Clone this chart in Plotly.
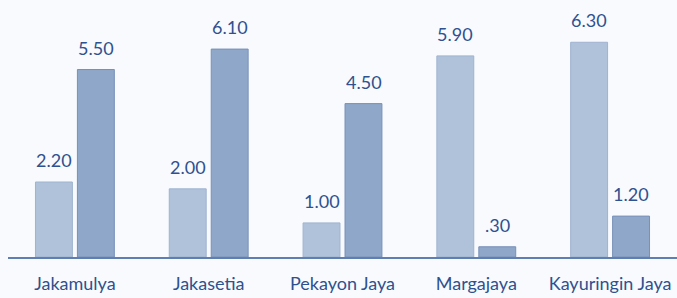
import plotly.graph_objects as go

categories = ["Jakamulya", "Jakasetia", "Pekayon Jaya", "Margajaya", "Kayuringin Jaya"]
series_a = [2.20, 2.00, 1.00, 5.90, 6.30]
series_b = [5.50, 6.10, 4.50, 0.30, 1.20]


def fmt(v):
    s = f"{v:.2f}"
    return s[1:] if s.startswith("0") else s


LABEL_COLOR = "#2f5190"
FONT = "Lato, 'Open Sans', sans-serif"

fig = go.Figure()
fig.add_trace(go.Bar(
    x=categories, y=series_a, name="A",
    marker=dict(color="#b0c2da", line=dict(color="#9fb3cf", width=1)),
))
fig.add_trace(go.Bar(
    x=categories, y=series_b, name="B",
    marker=dict(color="#8fa7c8", line=dict(color="#7890b8", width=1)),
))

annotations = []
for i, (a, b) in enumerate(zip(series_a, series_b)):
    for val, off in ((a, -0.5), (b, 0.5)):
        annotations.append(dict(
            x=i, xref="x", y=val, yref="y", xshift=off * 42,
            text=fmt(val), showarrow=False, yanchor="middle", yshift=22,
            font=dict(family=FONT, size=18, color=LABEL_COLOR),
        ))

fig.update_layout(
    width=677, height=298,
    margin=dict(l=8, r=0, t=0, b=41, autoexpand=False),
    paper_bgcolor="#f8fafd", plot_bgcolor="#f8fafd",
    showlegend=False,
    barmode="group", bargap=0.373, bargroupgap=0.12,
    annotations=annotations,
    font=dict(family=FONT, color=LABEL_COLOR),
)
fig.update_xaxes(
    showline=True, linecolor="#5f7fb3", linewidth=1.5,
    showgrid=False, ticks="", ticklabelstandoff=10, automargin=False,
    tickfont=dict(family=FONT, size=18, color=LABEL_COLOR),
)
fig.update_yaxes(range=[0, 7.54], visible=False, showgrid=False, zeroline=False)

fig.write_html(
    "out.html",
    config={"displayModeBar": False},
    post_script="document.body.style.margin='0';document.body.style.background='#f8fafd';",
)
